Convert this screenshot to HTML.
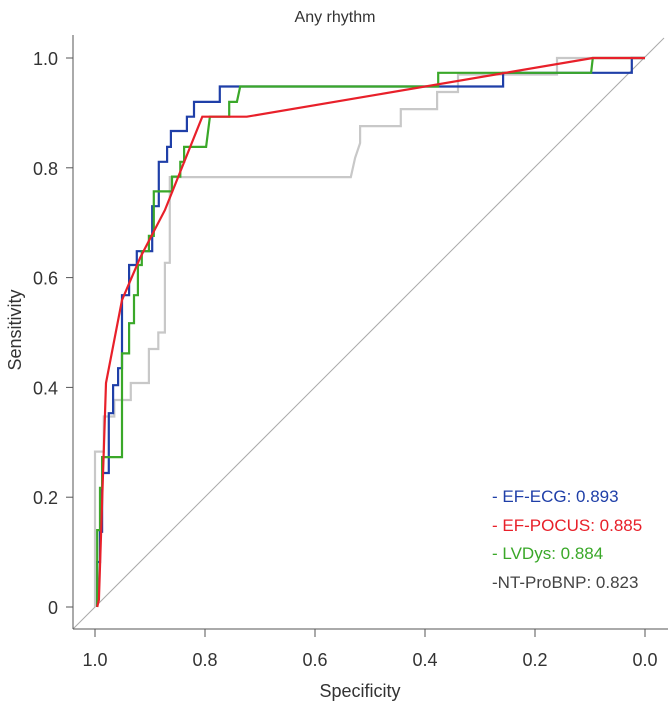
<!DOCTYPE html>
<html><head><meta charset="utf-8"><style>
body{margin:0;background:#fff}
svg text{font-family:"Liberation Sans Narrow","Liberation Sans",sans-serif;}
</style></head><body>
<svg id="chart" width="668" height="709" xmlns="http://www.w3.org/2000/svg">
<text x="335" y="22" font-size="16" text-anchor="middle" fill="#333">Any rhythm</text>
<text x="360" y="697" font-size="18" text-anchor="middle" fill="#333">Specificity</text>
<text transform="translate(21,330) rotate(-90)" font-size="18" text-anchor="middle" fill="#333">Sensitivity</text>
<g id="axes"></g>
<g id="series"></g>
<g font-size="17">
<text x="492" y="502" fill="#1f3fa8">- EF-ECG: 0.893</text>
<text x="492" y="531" fill="#e8202a">- EF-POCUS: 0.885</text>
<text x="492" y="559" fill="#3aa829">- LVDys: 0.884</text>
<text x="492" y="588" fill="#444">-NT-ProBNP: 0.823</text>
</g>
</svg>
<script>
const xTicks=[1.0,0.8,0.6,0.4,0.2,0.0];
const xTickLabels=["1.0","0.8","0.6","0.4","0.2","0.0"];
const yTicks=[0,0.2,0.4,0.6,0.8,1.0];
const yTickLabels=["0","0.2","0.4","0.6","0.8","1.0"];
const ecgSpec=[.996,.996,.991,.991,.987,.987,.975,.975,.967,.967,.958,.958,.951,.951,.938,.938,.924,.924,.896,.896,.884,.884,.869,.869,.862,.862,.833,.833,.820,.820,.773,.773,.258,.258,.024,.024,0];
const ecgSens=[0,.082,.082,.137,.137,.244,.244,.353,.353,.404,.404,.435,.435,.568,.568,.623,.623,.648,.648,.730,.730,.811,.811,.838,.838,.867,.867,.893,.893,.920,.920,.948,.948,.973,.973,1,1];
const pocusSpec=[.996,.993,.980,.951,.918,.873,.805,.724,.482,.095,0];
const pocusSens=[0,.013,.408,.559,.636,.723,.893,.893,.934,1,1];
const lvSpec=[.996,.996,.991,.991,.987,.987,.951,.951,.938,.938,.929,.929,.922,.922,.915,.915,.902,.902,.893,.893,.860,.860,.845,.845,.838,.838,.798,.791,.756,.756,.742,.736,.376,.376,.098,.095,0];
const lvSens=[0,.140,.140,.217,.217,.273,.273,.462,.462,.517,.517,.568,.568,.623,.623,.648,.648,.676,.676,.757,.757,.784,.784,.811,.811,.838,.838,.893,.893,.920,.920,.948,.948,.973,.973,1,1];
const bnpSpec=[1,1,.984,.984,.965,.965,.935,.935,.902,.902,.885,.885,.873,.873,.864,.864,.535,.527,.518,.518,.444,.444,.378,.378,.340,.340,.160,.160,0];
const bnpSens=[0,.283,.283,.347,.347,.377,.377,.408,.408,.470,.470,.500,.500,.627,.627,.783,.783,.818,.845,.876,.876,.907,.907,.938,.938,.970,.970,1,1];
const NS="http://www.w3.org/2000/svg";
const X=s=>645-s*550, Y=v=>607-v*549;
const axes=document.getElementById('axes'), ser=document.getElementById('series');
function mk(tag,attrs,parent){const e=document.createElementNS(NS,tag);for(const k in attrs)e.setAttribute(k,attrs[k]);parent.appendChild(e);return e;}
let d=mk('line',{x1:73,y1:629,x2:664,y2:38,stroke:'#aaa','stroke-width':1},axes);


let xa=mk('line',{x1:73,y1:629,x2:668,y2:629,stroke:'#555','stroke-width':1},axes);


let ya=mk('line',{x1:73,y1:35,x2:73,y2:629,stroke:'#555','stroke-width':1},axes);


xTicks.forEach((t,i)=>{
  let l=mk('line',{x1:X(t),y1:629,x2:X(t),y2:637,stroke:'#555'},axes);
  
  
  let tx=mk('text',{x:X(t),y:666,'font-size':18,'text-anchor':'middle',fill:'#333'},axes);
  tx.textContent=xTickLabels[i];
  
  
});
yTicks.forEach((t,i)=>{
  let l=mk('line',{x1:66,y1:Y(t),x2:73,y2:Y(t),stroke:'#555'},axes);
  
  
  let tx=mk('text',{x:58,y:Y(t)+7,'font-size':18,'text-anchor':'end',fill:'#333'},axes);
  tx.textContent=yTickLabels[i];
  
  
});
function curve(sp,se,color,name){
  const pts=sp.map((s,i)=>X(s).toFixed(1)+','+Y(se[i]).toFixed(1)).join(' ');
  let p=mk('polyline',{points:pts,fill:'none',stroke:color,'stroke-width':2.2,'stroke-linejoin':'miter'},ser);
  
  
}
curve(bnpSpec,bnpSens,'#c8c8c8','curve-nt-probnp');
curve(ecgSpec,ecgSens,'#1f3fa8','curve-ef-ecg');
curve(lvSpec,lvSens,'#3aa829','curve-lvdys');
curve(pocusSpec,pocusSens,'#e8202a','curve-ef-pocus');
</script>
</body></html>
